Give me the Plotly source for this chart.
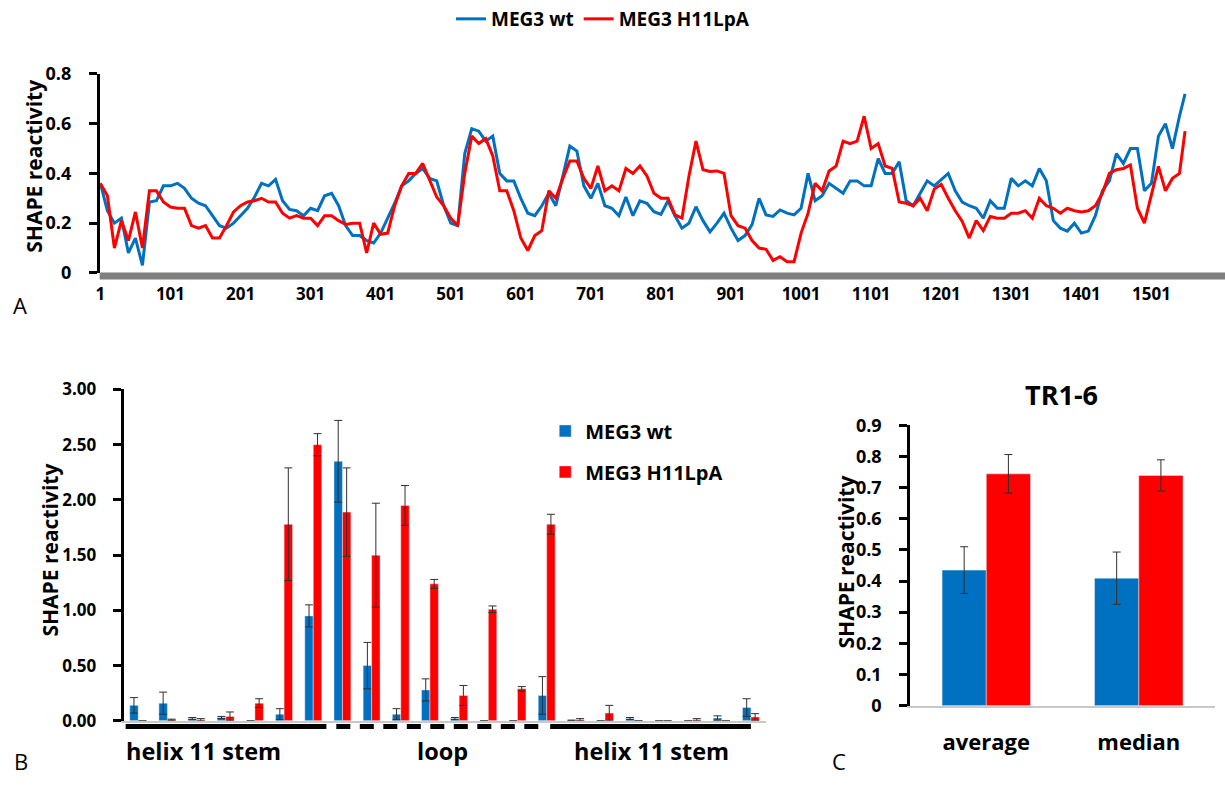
import plotly.graph_objects as go

W, H = 1225, 785
BLUE = "#0070C0"
RED = "#FF0000"
FONT = "Open Sans"

# ---------- Panel A: sliding-window SHAPE reactivity along MEG3 ----------
nt_pos = list(range(1, 1542, 10)) + [1549]

wt_profile = [
    0.36, 0.25, 0.20, 0.22, 0.08, 0.14, 0.03, 0.285, 0.29, 0.35,
    0.35, 0.36, 0.34, 0.30, 0.28, 0.27, 0.23, 0.19, 0.18, 0.20,
    0.23, 0.26, 0.305, 0.36, 0.35, 0.376, 0.29, 0.255, 0.25, 0.23,
    0.26, 0.25, 0.31, 0.32, 0.27, 0.19, 0.15, 0.15, 0.13, 0.12,
    0.16, 0.22, 0.28, 0.35, 0.37, 0.40, 0.42, 0.38, 0.37, 0.27,
    0.20, 0.19, 0.48, 0.58, 0.57, 0.53, 0.55, 0.40, 0.37, 0.37,
    0.30, 0.24, 0.23, 0.27, 0.32, 0.27, 0.39, 0.51, 0.49, 0.35,
    0.30, 0.36, 0.27, 0.26, 0.23, 0.305, 0.23, 0.29, 0.28, 0.246,
    0.235, 0.29, 0.23, 0.18, 0.20, 0.266, 0.21, 0.165, 0.20, 0.24,
    0.18, 0.13, 0.15, 0.194, 0.30, 0.233, 0.227, 0.253, 0.24, 0.233,
    0.26, 0.40, 0.29, 0.31, 0.36, 0.34, 0.32, 0.37, 0.37, 0.35,
    0.35, 0.46, 0.40, 0.40, 0.447, 0.29, 0.27, 0.32, 0.37, 0.35,
    0.376, 0.40, 0.33, 0.285, 0.27, 0.26, 0.22, 0.29, 0.26, 0.26,
    0.38, 0.35, 0.37, 0.35, 0.42, 0.37, 0.21, 0.18, 0.168, 0.20,
    0.16, 0.168, 0.23, 0.33, 0.37, 0.48, 0.44, 0.50, 0.50, 0.33,
    0.36, 0.55, 0.60, 0.50, 0.63, 0.72,
]

mut_profile = [
    0.36, 0.31, 0.10, 0.21, 0.13, 0.245, 0.10, 0.33, 0.33, 0.285,
    0.265, 0.26, 0.26, 0.19, 0.18, 0.19, 0.14, 0.14, 0.19, 0.245,
    0.27, 0.285, 0.29, 0.30, 0.285, 0.285, 0.24, 0.22, 0.23, 0.22,
    0.22, 0.19, 0.23, 0.23, 0.21, 0.195, 0.20, 0.20, 0.08, 0.20,
    0.155, 0.16, 0.27, 0.35, 0.40, 0.40, 0.44, 0.37, 0.305, 0.27,
    0.22, 0.19, 0.40, 0.55, 0.52, 0.54, 0.47, 0.33, 0.33, 0.25,
    0.14, 0.09, 0.15, 0.17, 0.33, 0.30, 0.38, 0.45, 0.45, 0.38,
    0.34, 0.43, 0.33, 0.35, 0.33, 0.42, 0.40, 0.43, 0.39, 0.32,
    0.30, 0.30, 0.233, 0.22, 0.39, 0.53, 0.415, 0.408, 0.41, 0.40,
    0.23, 0.19, 0.18, 0.13, 0.10, 0.095, 0.05, 0.065, 0.045, 0.045,
    0.16, 0.24, 0.36, 0.33, 0.41, 0.43, 0.53, 0.52, 0.53, 0.63,
    0.50, 0.52, 0.43, 0.42, 0.285, 0.28, 0.27, 0.30, 0.25, 0.337,
    0.356, 0.30, 0.25, 0.207, 0.14, 0.21, 0.17, 0.227, 0.22, 0.22,
    0.24, 0.24, 0.25, 0.22, 0.30, 0.27, 0.26, 0.24, 0.26, 0.25,
    0.245, 0.25, 0.27, 0.32, 0.40, 0.415, 0.42, 0.434, 0.26, 0.20,
    0.32, 0.428, 0.33, 0.38, 0.40, 0.57,
]

a_ticks = list(range(1, 1502, 100))

# ---------- Panel B: helix 11 nucleotides ----------
h11_idx = list(range(22))
wt_h11 = [0.14, 0.16, 0.02, 0.03, 0, 0.06, 0.95, 2.35, 0.50, 0.06, 0.28,
          0.02, 0, 0, 0.23, 0.005, 0, 0.02, 0, 0, 0.025, 0.12]
wt_h11_err = [0.07, 0.10, 0.01, 0.01, None, 0.05, 0.10, 0.37, 0.21, 0.05, 0.10,
              0.01, None, None, 0.17, None, None, 0.01, None, None, 0.02, 0.08]
mut_h11 = [0, 0.01, 0.01, 0.04, 0.16, 1.78, 2.50, 1.89, 1.50, 1.95, 1.24,
           0.23, 1.01, 0.29, 1.78, 0.01, 0.07, 0, 0, 0.01, 0, 0.035]
mut_h11_err = [None, 0.005, 0.01, 0.04, 0.04, 0.51, 0.10, 0.40, 0.47, 0.18, 0.04,
               0.09, 0.03, 0.02, 0.09, 0.01, 0.07, None, None, 0.01, None, 0.03]

# ---------- Panel C: TR1-6 summary ----------
stat_names = ["average", "median"]
wt_tr = [0.435, 0.409]
wt_tr_err = [0.075, 0.084]
mut_tr = [0.744, 0.739]
mut_tr_err = [0.062, 0.050]


def px(x):
    return x / W


def py(y):
    return 1 - y / H


def bold(size):
    return dict(family=FONT, size=size, color="black", weight="bold")


fig = go.Figure()

fig.add_trace(go.Scatter(x=nt_pos, y=wt_profile, mode="lines", name="MEG3 wt",
                         line=dict(color=BLUE, width=3), legend="legend",
                         xaxis="x", yaxis="y"))
fig.add_trace(go.Scatter(x=nt_pos, y=mut_profile, mode="lines", name="MEG3 H11LpA",
                         line=dict(color=RED, width=3), legend="legend",
                         xaxis="x", yaxis="y"))

err_style = dict(type="data", color="#303030", thickness=1, width=4)
fig.add_trace(go.Bar(x=h11_idx, y=wt_h11, name="MEG3 wt", marker_color=BLUE,
                     error_y=dict(array=wt_h11_err, **err_style),
                     legend="legend2", legendgroup="w", xaxis="x2", yaxis="y2"))
fig.add_trace(go.Bar(x=h11_idx, y=mut_h11, name="MEG3 H11LpA", marker_color=RED,
                     error_y=dict(array=mut_h11_err, **err_style),
                     legend="legend2", legendgroup="m", xaxis="x2", yaxis="y2"))

err_c = dict(type="data", color="#303030", thickness=1, width=4)
fig.add_trace(go.Bar(x=stat_names, y=wt_tr, marker_color=BLUE, showlegend=False,
                     error_y=dict(array=wt_tr_err, **err_c), xaxis="x3", yaxis="y3"))
fig.add_trace(go.Bar(x=stat_names, y=mut_tr, marker_color=RED, showlegend=False,
                     error_y=dict(array=mut_tr_err, **err_c), xaxis="x3", yaxis="y3"))

# non-breaking spaces keep the value labels clear of the tick marks
GAP = "\u00a0\u00a0\u00a0"
yaxis_style = dict(showgrid=False, zeroline=False, showline=True, linecolor="black",
                   linewidth=2.5, ticks="outside", ticklen=8, tickwidth=2.5,
                   tickcolor="black", ticksuffix=GAP)

fig.update_layout(
    width=W, height=H, margin=dict(l=0, r=0, t=0, b=0),
    paper_bgcolor="white", plot_bgcolor="white",
    font=dict(family=FONT, color="black"),
    barmode="group", bargap=0.42, bargroupgap=0,
    xaxis=dict(domain=[px(96), 1], range=[0, 1606], tickmode="array",
               tickvals=a_ticks, ticktext=[str(t) for t in a_ticks],
               showline=False, ticks="", showgrid=False, zeroline=False,
               tickfont=bold(17), ticklabelstandoff=9, anchor="y"),
    yaxis=dict(domain=[py(266.7), py(61)], range=[0, 0.8], dtick=0.2,
               tickfont=bold(18), anchor="x", **yaxis_style),
    xaxis2=dict(domain=[px(120), px(764)], range=[-0.5, 21.5],
                showticklabels=False, ticks="", showline=True, showgrid=False,
                zeroline=False, linecolor="#C8C8C8", linewidth=1.5, anchor="y2"),
    yaxis2=dict(domain=[py(730), py(387.3)], range=[0, 3], dtick=0.5,
                tickformat=".2f", tickfont=bold(17), anchor="x2", **yaxis_style),
    xaxis3=dict(domain=[px(909), px(1215)], type="category", ticks="",
                showline=True, linecolor="#C8C8C8", linewidth=1.5, anchor="y3",
                showgrid=False, zeroline=False, tickfont=bold(22),
                ticklabelstandoff=16),
    yaxis3=dict(domain=[py(714.3), py(424.3)], range=[0, 0.9], dtick=0.1,
                tickfont=bold(18), anchor="x3", **yaxis_style),
    legend=dict(orientation="h", x=px(601), xanchor="center", y=1.02, yanchor="top",
                font=bold(19), bgcolor="rgba(0,0,0,0)"),
    legend2=dict(orientation="v", x=px(543), xanchor="left", y=py(410),
                 yanchor="top", traceorder="grouped", tracegroupgap=12,
                 font=bold(20), bgcolor="rgba(0,0,0,0)"),
)

# thick grey baseline of panel A
fig.add_shape(type="line", xref="paper", yref="paper", x0=px(96), x1=1,
              y0=py(270), y1=py(270), line=dict(color="#7F7F7F", width=7))

# helix 11 secondary-structure bar under panel B
struct_segments = [(-0.43, 6.45, "solid"), (6.79, 13.78, "14px,9.5px"), (14.12, 21.0, "solid")]
for x0, x1, dash in struct_segments:
    fig.add_shape(type="line", xref="x2", yref="paper", x0=x0, x1=x1,
                  y0=py(736), y1=py(736), line=dict(color="black", width=5, dash=dash))

annotations = [
    dict(text="helix 11 stem", x=px(200), y=py(761)),
    dict(text="loop", x=px(440), y=py(761)),
    dict(text="helix 11 stem", x=px(650), y=py(761)),
]
for a in annotations:
    fig.add_annotation(xref="paper", yref="paper", showarrow=False, font=bold(23.5),
                       xanchor="center", yanchor="middle", **a)

# y-axis titles
for xp, yp in [(30, 156), (46, 553), (845, 566)]:
    fig.add_annotation(text="SHAPE reactivity", xref="paper", yref="paper",
                       x=px(xp), y=py(yp), showarrow=False, textangle=-90,
                       font=bold(21), xanchor="center", yanchor="middle")

# panel C title
fig.add_annotation(text="TR1-6", xref="paper", yref="paper", x=px(1061), y=py(392),
                   showarrow=False, xanchor="center", yanchor="middle", font=bold(27))

# panel letters
for letter, xp, yp in [("A", 16, 300), ("B", 17, 772), ("C", 838, 772)]:
    fig.add_annotation(text=letter, xref="paper", yref="paper", x=px(xp), y=py(yp),
                       showarrow=False, xanchor="center", yanchor="middle",
                       font=dict(family=FONT, size=22, color="black"))

fig.write_html("out.html")
